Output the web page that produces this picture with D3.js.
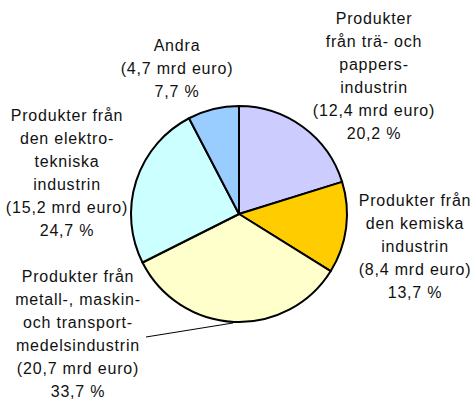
<!DOCTYPE html>
<html>
<head>
  <script src="https://d3js.org/d3.v7.min.js"></script>
  <meta charset='utf-8'>
  <title>Export</title>
  <style>
    body { margin: 0; background: #fff; }
    text { font-family: "Liberation Sans", Arial, sans-serif; font-size: 16px; letter-spacing: 0.8px; fill: #111; }
  </style>
</head>
<body>
  <div id="container"></div>
  <script>
  const width = 474, height = 403;

  // slices, clockwise from 12 o'clock
  const categories = ["trä", "kemi", "metall", "elektro", "andra"];
  const values = [12.4, 8.4, 20.7, 15.2, 4.7];   // mrd euro
  const percents = ["20,2 %", "13,7 %", "33,7 %", "24,7 %", "7,7 %"];
  const colors = ["#ccccff", "#ffcc00", "#ffffcc", "#ccffff", "#99ccff"];
  const labelLines = [
    ["Produkter", "från trä- och", "pappers-", "industrin", "(12,4 mrd euro)"],
    ["Produkter från", "den kemiska", "industrin", "(8,4 mrd euro)"],
    ["Produkter från", "metall-, maskin-", "och transport-", "medelsindustrin", "(20,7 mrd euro)"],
    ["Produkter från", "den elektro-", "tekniska", "industrin", "(15,2 mrd euro)"],
    ["Andra", "(4,7 mrd euro)"]
  ];
  const labelPos = [[374, 23.5], [415, 206], [78, 282], [67, 121], [177, 51]];

  const cx = 239, cy = 214, r = 108, lineH = 23;

  const svg = d3.select("#container").append("svg")
    .attr("width", width)
    .attr("height", height)

  const pie = d3.pie().sort(null).value(d => d)
  const arc = d3.arc().innerRadius(0).outerRadius(r)

  const g = svg.append("g").attr("transform", `translate(${cx},${cy})`)

  g.selectAll("path")
    .data(pie(values))
    .enter()
    .append("path")
    .attr("d", arc)
    .attr("fill", (d, i) => colors[i])
    .attr("stroke", "#000")
    .attr("stroke-width", 2)
    .attr("stroke-linejoin", "round")

  // leader line for the metall label
  svg.append("line")
    .attr("x1", 146).attr("y1", 337)
    .attr("x2", 233).attr("y2", 323)
    .attr("stroke", "#000")
    .attr("stroke-width", 1)

  categories.forEach((c, i) => {
    const lines = labelLines[i].concat([percents[i]])
    const t = svg.append("text")
      .attr("text-anchor", "middle")
    lines.forEach((s, j) => {
      t.append("tspan")
        .attr("x", labelPos[i][0])
        .attr("y", labelPos[i][1] + j * lineH)
        .text(s)
    })
  })
  </script>
</body>
</html>
